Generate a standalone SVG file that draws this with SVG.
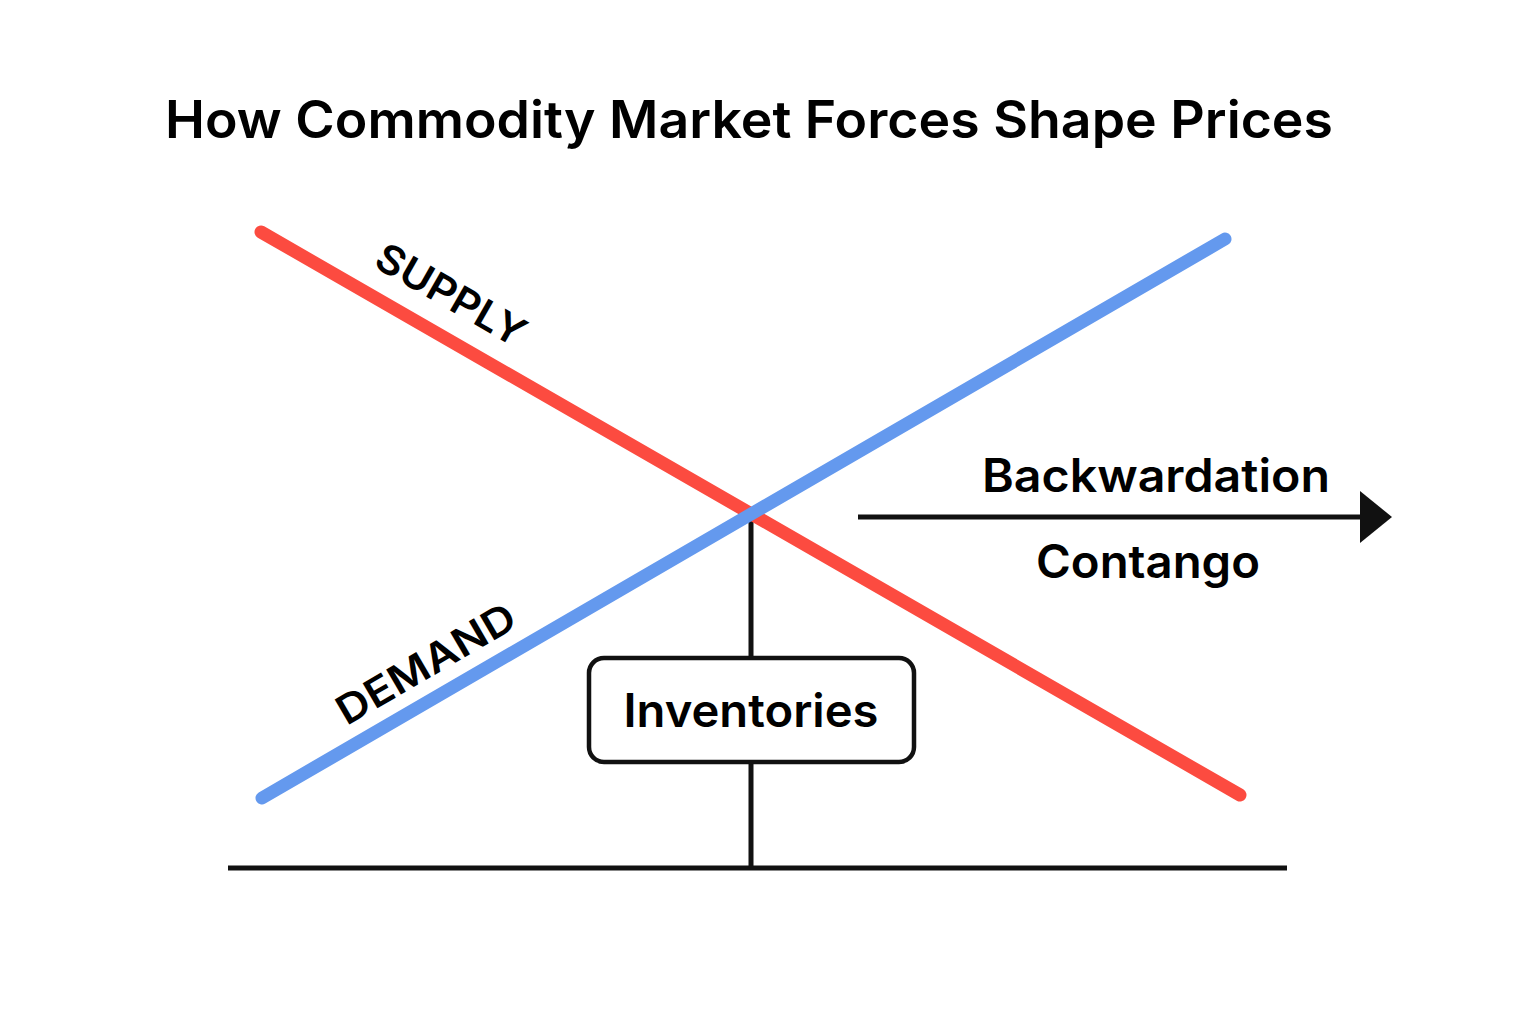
<svg xmlns="http://www.w3.org/2000/svg" width="1536" height="1024" viewBox="0 0 1536 1024">
<style>
text{font-family:Inter,"Liberation Sans",Arial,sans-serif;fill:#000}
.title{font-size:52px;font-weight:600}
.lbl{font-size:46px;font-weight:600}
.curve{font-size:40px;font-weight:600}
.blk{stroke:#111;fill:none}
</style>
<rect width="1536" height="1024" fill="#fff"/>
<text class="title" x="165" y="138" textLength="1168" lengthAdjust="spacingAndGlyphs">How Commodity Market Forces Shape Prices</text>
<g id="connectors">
<line class="blk" x1="228" y1="868" x2="1287" y2="868" stroke-width="5"/>
<line class="blk" x1="751" y1="517" x2="751" y2="868" stroke-width="5"/>
<line id="supply-line" x1="261" y1="232" x2="1240" y2="795" stroke="#fc4b40" stroke-width="13" stroke-linecap="round"/>
<line id="demand-line" x1="262" y1="798" x2="1225" y2="239" stroke="#6499ee" stroke-width="13" stroke-linecap="round"/>
<line class="blk" x1="858" y1="517" x2="1364" y2="517" stroke-width="5"/>
<polygon points="1360,491 1392,517 1360,543" fill="#111"/>
</g>
<g id="supply">
<text class="curve" transform="translate(444,307) rotate(29.9)" text-anchor="middle" textLength="166" lengthAdjust="spacingAndGlyphs">SUPPLY</text>
</g>
<g id="demand">
<text class="curve" transform="translate(433,676) rotate(-30.2)" text-anchor="middle" textLength="200" lengthAdjust="spacingAndGlyphs">DEMAND</text>
</g>
<g id="inventories">
<rect x="589" y="658" width="325" height="104" rx="15" fill="#fff" stroke="#111" stroke-width="4.5"/>
<text class="lbl" x="751" y="727" text-anchor="middle" textLength="255" lengthAdjust="spacingAndGlyphs">Inventories</text>
</g>
<g id="backwardation">
<text class="lbl" x="1156" y="492" text-anchor="middle" textLength="348" lengthAdjust="spacingAndGlyphs">Backwardation</text>
</g>
<g id="contango">
<text class="lbl" x="1148" y="578" text-anchor="middle" textLength="224" lengthAdjust="spacingAndGlyphs">Contango</text>
</g>
</svg>
